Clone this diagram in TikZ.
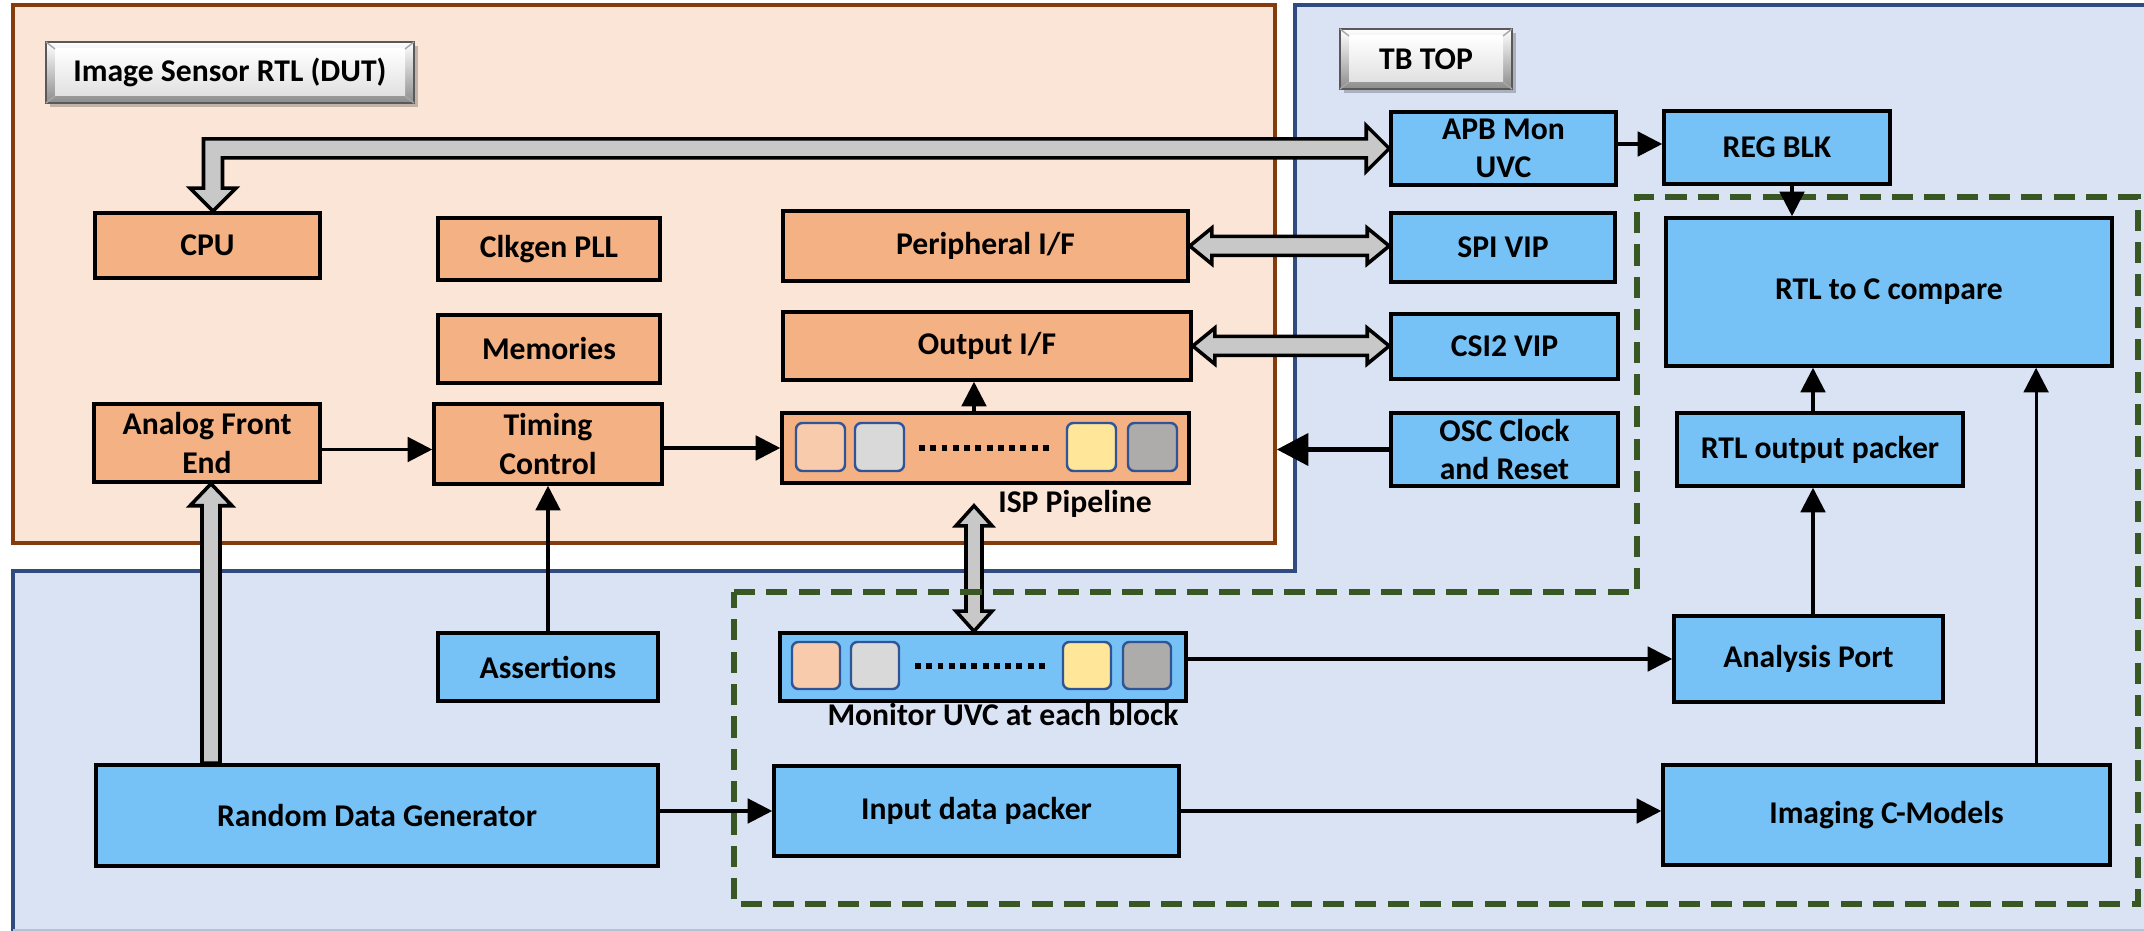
\documentclass[tikz,border=0pt]{standalone}
\usepackage{fontspec}
\setmainfont{Carlito}
\usetikzlibrary{arrows.meta,calc}

\definecolor{dutfill}{HTML}{FBE5D6}
\definecolor{dutline}{HTML}{843C0C}
\definecolor{tbfill}{HTML}{DAE3F3}
\definecolor{tbline}{HTML}{2F4B7F}
\definecolor{orangebox}{HTML}{F4B183}
\definecolor{bluebox}{HTML}{76C2F6}
\definecolor{arrowgray}{HTML}{C8C8C8}
\definecolor{scopegreen}{HTML}{385723}
\definecolor{cellline}{HTML}{2F5597}
\definecolor{cpeach}{HTML}{F8CBAD}
\definecolor{clight}{HTML}{D9D9D9}
\definecolor{cyellow}{HTML}{FFE699}
\definecolor{cgray}{HTML}{AEABAB}

% bevelled title button: name, x1, y1, x2, y2, text
\newcommand\labelbutton[6]{%
  \fill[black, opacity=0.22] (#2+4,#3+4) rectangle (#4+4,#5+4);
  \shade[top color=white, bottom color=black!45, draw=black!65, line width=0.6pt] (#2,#3) rectangle (#4,#5);
  \shade[top color=white, bottom color=black!12] (#2+9,#3+7) rectangle (#4-9,#5-7);
  \draw[black!35, line width=0.4pt] (#2,#3) -- (#2+9,#3+7) (#4,#3) -- (#4-9,#3+7)
       (#2,#5) -- (#2+9,#5-7) (#4,#5) -- (#4-9,#5-7);
  \node[inner sep=0pt] (#1) at ({(#2+#4)/2},{(#3+#5)/2}) {#6};
}

% block from corner to corner: style, name, x1, y1, x2, y2, text
\newcommand\blk[7]{%
  \node[#1, minimum width={(#5-#3)*0.01cm}, minimum height={(#6-#4)*0.01cm}]
    (#2) at ({(#3+#5)/2},{(#4+#6)/2}) {#7};
}

\begin{document}
\begin{tikzpicture}[x=0.01cm, y=-0.01cm,
  every node/.style={font=\bfseries\fontsize{9}{11}\selectfont},
  obox/.style={draw=black, line width=1pt, fill=orangebox, inner sep=0pt, align=center},
  bbox/.style={draw=black, line width=1pt, fill=bluebox, inner sep=0pt, align=center},
  arr/.style={line width=0.9pt, -{Triangle[length=7pt,width=7pt]}},
  fat/.style={fill=arrowgray, draw=black, line width=1pt, line join=miter},
  cell/.style={rounded corners=1.8pt, draw=cellline, line width=0.7pt},
  dotline/.style={line width=1.8pt, dash pattern=on 1.7pt off 1.5pt},
]
\useasboundingbox (0,0) rectangle (2144,931);
\fill[white] (0,0) rectangle (2144,931);

% testbench region (L-shaped)
\fill[tbfill] (1295,5) -- (2150,5) -- (2150,935) -- (13,935) -- (13,571) -- (1295,571) -- cycle;
\draw[tbline, line width=1pt] (2150,5) -- (1295,5) -- (1295,571) -- (13,571) -- (13,935);
\draw[tbline!35, line width=0.6pt] (13,930) -- (2150,930);

% design under test region
\blk{draw=dutline, fill=dutfill, line width=1pt, inner sep=0pt}{dut}{13}{5}{1275}{543}{}

% titles
\labelbutton{dutlbl}{46}{42}{414}{103}{Image Sensor RTL (DUT)}
\labelbutton{tblbl}{1340}{29}{1512}{89}{TB TOP}

% DUT blocks
\blk{obox}{cpu}{95}{213}{320}{278}{CPU}
\blk{obox}{clk}{438}{218}{660}{280}{Clkgen PLL}
\blk{obox}{mem}{438}{315}{660}{383}{Memories}
\blk{obox}{afe}{94}{404}{320}{482}{Analog Front\\End}
\blk{obox}{tim}{434}{404}{662}{484}{Timing\\Control}
\blk{obox}{per}{783}{211}{1188}{281}{Peripheral I/F}
\blk{obox}{out}{783}{312}{1191}{380}{Output I/F}
\blk{obox}{isp}{782}{413}{1189}{483}{}

% testbench blocks
\blk{bbox}{apb}{1391}{112}{1616}{185}{APB Mon\\UVC}
\blk{bbox}{reg}{1664}{111}{1890}{184}{REG BLK}
\blk{bbox}{spi}{1391}{213}{1615}{282}{SPI VIP}
\blk{bbox}{csi}{1391}{314}{1618}{379}{CSI2 VIP}
\blk{bbox}{osc}{1391}{413}{1618}{486}{OSC Clock\\and Reset}
\blk{bbox}{cmp}{1666}{218}{2112}{366}{RTL to C compare}
\blk{bbox}{rop}{1677}{413}{1963}{486}{RTL output packer}
\blk{bbox}{ana}{1674}{616}{1943}{702}{Analysis Port}
\blk{bbox}{cmod}{1663}{765}{2110}{865}{Imaging C-Models}
\blk{bbox}{asr}{438}{633}{658}{701}{Assertions}
\blk{bbox}{rdg}{96}{765}{658}{866}{Random Data Generator}
\blk{bbox}{inp}{774}{766}{1179}{856}{Input data packer}
\blk{bbox}{mon}{780}{633}{1186}{701}{}

% pipeline stages
\foreach \x/\c in {796/cpeach, 855/clight, 1067/cyellow, 1128/cgray}
  \filldraw[cell, fill=\c] (\x,423) rectangle ++(49,48);
\draw[dotline] (919,448) -- (1054,448);
\foreach \x/\c in {792/cpeach, 851/clight, 1063/cyellow, 1123/cgray}
  \filldraw[cell, fill=\c] (\x,642) rectangle ++(48,47);
\draw[dotline] (915,666) -- (1049,666);

\node (isplbl) at (1075,504) {ISP Pipeline};
\node (monlbl) at (1003,715) {Monitor UVC at each block};

% wide bus arrows
\coordinate (cpuIn) at ([xshift=0.055cm]cpu.north);
\coordinate (apbIn) at (apb.west);
\coordinate (bend) at (cpuIn |- apbIn);
\filldraw[fat] (apbIn) -- ($(apbIn)+(-23,-23)$) -- ($(apbIn)+(-23,-9.5)$) -- ($(bend)+(-9.5,-9.5)$)
  -- ($(cpuIn)+(-9.5,-23)$) -- ($(cpuIn)+(-23,-23)$) -- (cpuIn) -- ($(cpuIn)+(23,-23)$)
  -- ($(cpuIn)+(9.5,-23)$) -- ($(bend)+(9.5,9.5)$) -- ($(apbIn)+(-23,9.5)$) -- ($(apbIn)+(-23,23)$) -- cycle;

\coordinate (afeIn) at ([xshift=0.04cm]afe.south);
\coordinate (afeFoot) at (afeIn |- rdg.north);
\filldraw[fat] (afeIn) -- ($(afeIn)+(21,22)$) -- ($(afeIn)+(9,22)$) -- ($(afeFoot)+(9,0)$)
  -- ($(afeFoot)+(-9,0)$) -- ($(afeIn)+(-9,22)$) -- ($(afeIn)+(-21,22)$) -- cycle;

\coordinate (perL) at (per.east);
\coordinate (perR) at (per.east -| spi.west);
\filldraw[fat] (perL) -- ($(perL)+(22,-18)$) -- ($(perL)+(22,-9.5)$) -- ($(perR)+(-22,-9.5)$)
  -- ($(perR)+(-22,-18)$) -- (perR) -- ($(perR)+(-22,18)$) -- ($(perR)+(-22,9.5)$)
  -- ($(perL)+(22,9.5)$) -- ($(perL)+(22,18)$) -- cycle;

\coordinate (outL) at (out.east);
\coordinate (outR) at (out.east -| csi.west);
\filldraw[fat] (outL) -- ($(outL)+(22,-18)$) -- ($(outL)+(22,-9.5)$) -- ($(outR)+(-22,-9.5)$)
  -- ($(outR)+(-22,-18)$) -- (outR) -- ($(outR)+(-22,18)$) -- ($(outR)+(-22,9.5)$)
  -- ($(outL)+(22,9.5)$) -- ($(outL)+(22,18)$) -- cycle;

\coordinate (ispT) at ([xshift=-0.115cm, yshift=-0.21cm]isp.south);
\coordinate (monB) at (ispT |- mon.north);
\filldraw[fat] (ispT) -- ($(ispT)+(18,20)$) -- ($(ispT)+(8,20)$) -- ($(monB)+(8,-20)$)
  -- ($(monB)+(18,-20)$) -- (monB) -- ($(monB)+(-18,-20)$) -- ($(monB)+(-8,-20)$)
  -- ($(ispT)+(-8,20)$) -- ($(ispT)+(-18,20)$) -- cycle;

% verification scope
\draw[scopegreen, line width=1.9pt, dash pattern=on 6pt off 3.2pt]
  (734,592) -- (1637,592) -- (1637,197) -- (2138,197) -- (2138,904) -- (734,904) -- cycle;

% signal arrows
\draw[arr] ([yshift=-0.065cm]afe.east) -- ([yshift=-0.065cm]afe.east -| tim.west);
\draw[arr] (tim.east |- isp.west) -- (isp.west);
\draw[arr] (asr.north) -- (asr.north |- tim.south);
\draw[arr] ([xshift=-0.115cm]isp.north) -- ([xshift=-0.115cm]isp.north |- out.south);
\draw[arr] ([yshift=0.045cm]apb.east) -- ([yshift=0.045cm]apb.east -| reg.west);
\draw[arr] ([xshift=0.15cm]reg.south) -- ([xshift=0.15cm]reg.south |- cmp.north);
\draw[arr] ([xshift=-0.07cm]rop.north) -- ([xshift=-0.07cm]rop.north |- cmp.south);
\draw[arr] ([xshift=-0.07cm]rop.south |- ana.north) -- ([xshift=-0.07cm]rop.south);
\draw[arr] ([xshift=1.495cm]cmod.north) -- ([xshift=1.495cm]cmod.north |- cmp.south);
\draw[arr] (mon.east |- ana.west) -- (ana.west);
\draw[arr] (rdg.east |- inp.west) -- (inp.west);
\draw[arr] (inp.east) -- (inp.east -| cmod.west);
\draw[line width=1.5pt, -{Triangle[length=9pt,width=9pt]}] (osc.west) -- (osc.west -| dut.east);
\end{tikzpicture}
\end{document}
